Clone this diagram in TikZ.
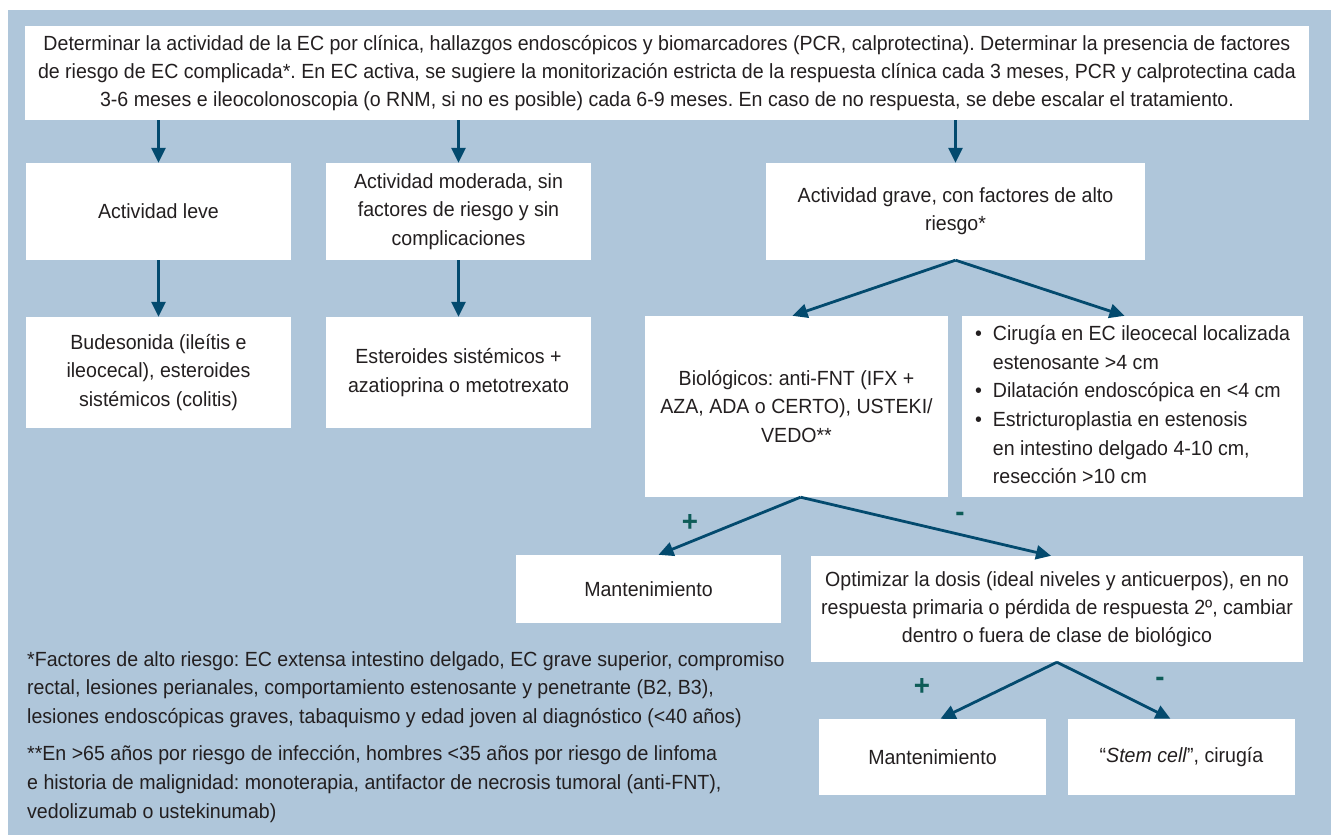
\documentclass[tikz,border=0pt]{standalone}
\usepackage{fontspec}
\setmainfont{Liberation Sans}[FakeStretch=0.955]
\usetikzlibrary{arrows.meta}
\definecolor{bgblue}{HTML}{AFC6DA}
\definecolor{arrowblue}{HTML}{034A6E}
\definecolor{signgreen}{HTML}{0E5C58}
\definecolor{txt}{HTML}{231F20}
\newcommand\fs{\fontsize{20.5}{28.3}\selectfont}
\frenchspacing
\tikzset{
  box/.style={fill=white, inner sep=0pt, align=center, text=txt, font=\fs},
  arr/.style={draw=arrowblue, line width=2.8pt, -{Triangle[length=15pt,width=14pt]}},
  sign/.style={text=signgreen, inner sep=0pt, font=\bfseries\fontsize{29}{29}\selectfont},
  note/.style={inner sep=0pt, align=left, text=txt, font=\fontsize{20.5}{28.8}\selectfont, anchor=north west},
}
\begin{document}
\begin{tikzpicture}[x=1pt, y=-1pt]
\useasboundingbox (0,0) rectangle (1331,835);
\fill[white] (0,0) rectangle (1331,835);
\fill[bgblue] (8,10) rectangle (1331,835);

\node[box, minimum width=1284, minimum height=94] (top) at (667,73)
 {Determinar la actividad de la EC por clínica, hallazgos endoscópicos y biomarcadores (PCR, calprotectina). Determinar la presencia de factores\\
  de riesgo de EC complicada*. En EC activa, se sugiere la monitorización estricta de la respuesta clínica cada 3 meses, PCR y calprotectina cada\\
  3-6 meses e ileocolonoscopia (o RNM, si no es posible) cada 6-9 meses. En caso de no respuesta, se debe escalar el tratamiento.};

\node[box, minimum width=265, minimum height=97] (leve) at (158.5,211.5) {Actividad leve};
\node[box, minimum width=265, minimum height=97] (mod) at (458.5,211.5) {Actividad moderada, sin\\factores de riesgo y sin\\complicaciones};
\node[box, minimum width=379, minimum height=97] (grave) at (955.5,211.5) {Actividad grave, con factores de alto\\riesgo*};

\node[box, minimum width=265, minimum height=111] (bude) at (158.5,372.5) {Budesonida (ileítis e\\ileocecal), esteroides\\sistémicos (colitis)};
\node[box, minimum width=265, minimum height=111] (este) at (458.5,372.5) {Esteroides sistémicos +\\azatioprina o metotrexato};

\node[box, minimum width=303, minimum height=181] (bio) at (796.5,406.5) {Biológicos: anti-FNT (IFX +\\AZA, ADA o CERTO), USTEKI/\\VEDO**};
\node[box, minimum width=341, minimum height=181] (list) at (1132.5,406.5)
 {\fontsize{20.5}{28.7}\selectfont\renewcommand\arraystretch{1}\begin{tabular}{@{}l@{\hspace{11pt}}l@{}}
  • & Cirugía en EC ileocecal localizada\\
    & estenosante >4 cm\\
  • & Dilatación endoscópica en <4 cm\\
  • & Estricturoplastia en estenosis\\
    & en intestino delgado 4-10 cm,\\
    & resección >10 cm
 \end{tabular}};

\node[box, minimum width=265, minimum height=68] (mant1) at (648.5,589) {Mantenimiento};
\node[box, minimum width=492, minimum height=106] (opt) at (1057,609) {Optimizar la dosis (ideal niveles y anticuerpos), en no\\respuesta primaria o pérdida de respuesta 2º, cambiar\\dentro o fuera de clase de biológico};

\node[box, minimum width=227, minimum height=76] (mant2) at (932.5,757) {Mantenimiento};
\node[box, minimum width=227, minimum height=76] (stem) at (1181.5,757) {“\textit{Stem cell}”, cirugía};

\draw[arr] (top.south -| leve.north) -- (leve.north);
\draw[arr] (top.south -| mod.north) -- (mod.north);
\draw[arr] (top.south -| grave.north) -- (grave.north);
\draw[arr] (leve) -- (bude);
\draw[arr] (mod) -- (este);
\draw[arr] (grave.south) -- ([xshift=-4pt]bio.north);
\draw[arr] (grave.south) -- ([xshift=-8pt]list.north);
\draw[arr] ([xshift=4pt]bio.south) -- ([xshift=10pt]mant1.north);
\draw[arr] ([xshift=4pt]bio.south) -- ([xshift=-6pt]opt.north);
\draw[arr] (opt.south) -- ([xshift=8pt]mant2.north);
\draw[arr] (opt.south) -- ([xshift=-11pt]stem.north);

\node[sign] (p1) at (690,523) {+};
\node[sign] (m1) at (960,517) {-};
\node[sign] (p2) at (922,687) {+};
\node[sign] (m2) at (1160,682) {-};

\node[note] (fn) at (27,651) {*Factores de alto riesgo: EC extensa intestino delgado, EC grave superior, compromiso\\
rectal, lesiones perianales, comportamiento estenosante y penetrante (B2, B3),\\
lesiones endoscópicas graves, tabaquismo y edad joven al diagnóstico (<40 años)\\[8pt]
**En >65 años por riesgo de infección, hombres <35 años por riesgo de linfoma\\
e historia de malignidad: monoterapia, antifactor de necrosis tumoral (anti-FNT),\\
vedolizumab o ustekinumab)};
\end{tikzpicture}
\end{document}
